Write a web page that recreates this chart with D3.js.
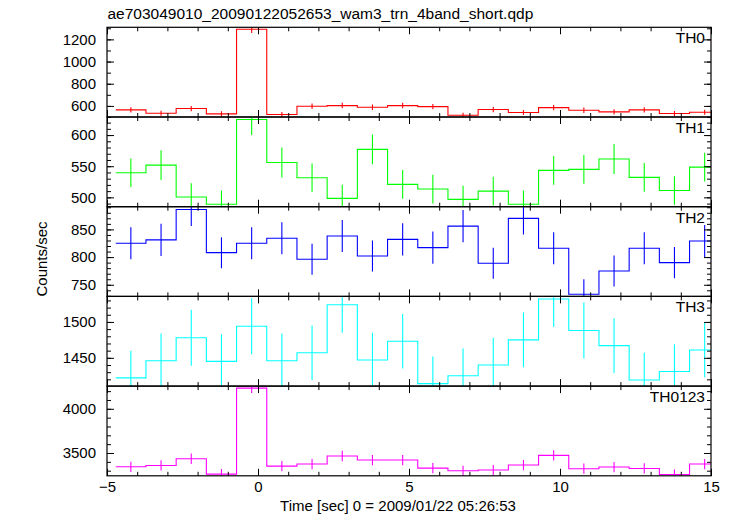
<!DOCTYPE html>
<html>
<head>
<meta charset="utf-8">
<script src="https://cdn.jsdelivr.net/npm/d3@7"></script>
<style>
  html, body { margin: 0; padding: 0; background: #fff; }
  svg { display: block; font-family: "Liberation Sans", Arial, Helvetica, sans-serif; }
</style>
</head>
<body>
<svg id="chart" width="733" height="516"></svg>
<script>
// ---- Data ----
const times = [-4.21, -3.21, -2.21, -1.21, -0.21, 0.79, 1.79, 2.79, 3.79, 4.79,
               5.79, 6.79, 7.79, 8.79, 9.79, 10.79, 11.79, 12.79, 13.79, 14.79];
const binWidth = 1.0;

const th0 = [564, 534, 576, 528, 1291, 522, 597, 603, 588, 603, 594, 516, 567, 540, 585, 561, 546, 564, 531, 543];
const th0Err = [24, 23, 24, 23, 33, 23, 24, 25, 24, 25, 24, 23, 24, 23, 24, 24, 23, 24, 23, 23];

const th1 = [539.5, 551.8, 500.5, 488.9, 625, 556, 531.5, 498.4, 577, 520.8, 513.3, 496.7, 510, 488.9, 543.3, 544.9, 561.5, 532, 511, 548.6];
const th1Err = [23, 24, 22, 22, 25, 24, 23, 22, 24, 23, 23, 22, 23, 22, 23, 23, 24, 23, 23, 23];

const th2 = [825, 831, 886, 808, 825, 834, 796, 838, 802, 832, 817, 856, 789, 870, 816, 733, 775, 816, 790, 829];
const th2Err = [29, 29, 30, 28, 29, 29, 28, 29, 28, 29, 29, 29, 28, 29, 29, 27, 28, 29, 28, 29];

const th3 = [1422, 1446, 1478, 1445, 1494, 1446, 1457, 1524, 1447, 1473, 1414, 1425, 1440, 1475, 1532, 1488, 1467, 1419, 1431, 1461];
const th3Err = [38, 38, 39, 38, 39, 38, 38, 39, 38, 38, 38, 38, 38, 38, 39, 39, 38, 38, 38, 38];

const th0123 = [3344, 3359, 3435, 3261, 4234, 3352, 3375, 3466, 3420, 3420, 3329, 3299, 3307, 3364, 3473, 3322, 3341, 3325, 3257, 3375];
const th0123Err = [58, 58, 59, 57, 55, 58, 58, 59, 58, 58, 58, 57, 58, 58, 59, 58, 58, 58, 57, 58];

const panelNames = ["TH0", "TH1", "TH2", "TH3", "TH0123"];
const panelValues = [th0, th1, th2, th3, th0123];
const panelErrors = [th0Err, th1Err, th2Err, th3Err, th0123Err];
const panelColors = ["#ff0000", "#00ff00", "#0000ff", "#00ffff", "#ff00ff"];
const yDomains = [[500, 1309], [485, 629], [729, 891], [1410.6, 1535.6], [3242, 4257]];
const yMajorTicks = [[600, 800, 1000, 1200], [500, 550, 600], [750, 800, 850], [1450, 1500], [3500, 4000]];
const yMinorSteps = [100, 10, 10, 10, 100];
const xDomain = [-5, 15];
const xMajorTicks = [-5, 0, 5, 10, 15];
const xMinorTicks = d3.range(-5, 16, 1);

const titleText = "ae703049010_20090122052653_wam3_trn_4band_short.qdp";
const xLabel = "Time [sec] 0 = 2009/01/22 05:26:53";
const yLabel = "Counts/sec";

// ---- Layout ----
const plotLeft = 107, plotRight = 711, plotTop = 27.3, panelH = 89.7;
const majorLen = 7, minorLen = 4;
const fontSize = 15;

const svg = d3.select("#chart");
const x = d3.scaleLinear().domain(xDomain).range([plotLeft, plotRight]);

svg.append("text")
  .attr("x", 107.5).attr("y", 19)
  .attr("font-size", 15.5)
  .attr("fill", "#000")
  .text(titleText);

const defs = svg.append("defs");

panelNames.forEach((name, i) => {
  const y0 = plotTop + i * panelH, y1 = y0 + panelH;
  const y = d3.scaleLinear().domain(yDomains[i]).range([y1, y0]);
  const g = svg.append("g");

  defs.append("clipPath").attr("id", "clip" + i)
    .append("rect").attr("x", plotLeft).attr("y", y0).attr("width", plotRight - plotLeft).attr("height", panelH);

  const data = times.map((t, k) => ({ t, v: panelValues[i][k], e: panelErrors[i][k] }));
  const pts = [];
  data.forEach(d => { pts.push([d.t - binWidth / 2, d.v]); pts.push([d.t + binWidth / 2, d.v]); });

  const plot = g.append("g").attr("clip-path", `url(#clip${i})`);
  plot.append("path")
    .attr("d", d3.line().x(p => x(p[0])).y(p => y(p[1]))(pts))
    .attr("fill", "none")
    .attr("stroke", panelColors[i])
    .attr("stroke-width", 1.1);
  plot.selectAll("line.err").data(data).join("line")
    .attr("class", "err")
    .attr("x1", d => x(d.t)).attr("x2", d => x(d.t))
    .attr("y1", d => y(d.v - d.e)).attr("y2", d => y(d.v + d.e))
    .attr("stroke", panelColors[i])
    .attr("stroke-width", 1.1);

  // axes
  const minorY = d3.range(Math.ceil(yDomains[i][0] / yMinorSteps[i]) * yMinorSteps[i], yDomains[i][1], yMinorSteps[i]);
  const styleAxis = sel => {
    sel.select(".domain").remove();
    sel.selectAll("line").attr("stroke", "#000").attr("stroke-width", 1);
    sel.selectAll("text").attr("font-size", fontSize).attr("fill", "#000");
    sel.attr("font-family", null).attr("font-size", null);
  };
  g.append("g").attr("transform", `translate(${plotLeft},0)`)
    .call(d3.axisLeft(y).tickValues(minorY).tickSize(-minorLen).tickFormat("")).call(styleAxis);
  g.append("g").attr("transform", `translate(${plotLeft},0)`)
    .call(d3.axisLeft(y).tickValues(yMajorTicks[i]).tickSize(-majorLen).tickPadding(11).tickFormat(d3.format("d"))).call(styleAxis);
  g.append("g").attr("transform", `translate(${plotRight},0)`)
    .call(d3.axisRight(y).tickValues(minorY).tickSize(-minorLen).tickFormat("")).call(styleAxis);
  g.append("g").attr("transform", `translate(${plotRight},0)`)
    .call(d3.axisRight(y).tickValues(yMajorTicks[i]).tickSize(-majorLen).tickFormat("")).call(styleAxis);

  g.append("g").attr("transform", `translate(0,${y0})`)
    .call(d3.axisTop(x).tickValues(xMinorTicks).tickSize(-minorLen).tickFormat("")).call(styleAxis);
  g.append("g").attr("transform", `translate(0,${y0})`)
    .call(d3.axisTop(x).tickValues(xMajorTicks).tickSize(-majorLen).tickFormat("")).call(styleAxis);
  g.append("g").attr("transform", `translate(0,${y1})`)
    .call(d3.axisBottom(x).tickValues(xMinorTicks).tickSize(-minorLen).tickFormat("")).call(styleAxis);
  g.append("g").attr("transform", `translate(0,${y1})`)
    .call(d3.axisBottom(x).tickValues(xMajorTicks).tickSize(-majorLen).tickPadding(6)
      .tickFormat(i === panelNames.length - 1 ? d3.format("d") : "")).call(styleAxis);

  g.append("rect")
    .attr("x", plotLeft).attr("y", y0).attr("width", plotRight - plotLeft).attr("height", panelH)
    .attr("fill", "none").attr("stroke", "#000").attr("stroke-width", 1.2);

  g.append("text")
    .attr("x", 705).attr("y", y0 + 16)
    .attr("text-anchor", "end")
    .attr("font-size", 15.5)
    .attr("fill", "#000")
    .text(name);
});

svg.append("text")
  .attr("x", 398).attr("y", 511)
  .attr("text-anchor", "middle")
  .attr("font-size", fontSize)
  .attr("fill", "#000")
  .text(xLabel);

svg.append("text")
  .attr("transform", "translate(46.5,259) rotate(-90)")
  .attr("text-anchor", "middle")
  .attr("font-size", fontSize)
  .attr("fill", "#000")
  .text(yLabel);
</script>
</body>
</html>
